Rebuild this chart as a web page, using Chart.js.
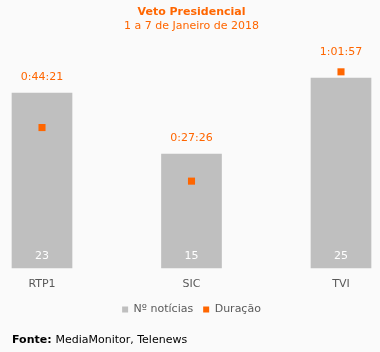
<!DOCTYPE html>
<html>
<head>
<meta charset="utf-8">
<script src="https://cdn.jsdelivr.net/npm/chart.js@4"></script>
<style>
  body { margin: 0; background: #fafafa; }
  canvas { display: block; }
</style>
</head>
<body>
<canvas id="vetoChart" width="380" height="352"></canvas>
<script>
// Data
var canais = ['RTP1', 'SIC', 'TVI'];
var noticias = [23, 15, 25];
var duracaoTxt = ['0:44:21', '0:27:26', '1:01:57'];

// h:mm:ss -> seconds
function toSec(t) {
    var p = t.split(':');
    return (+p[0]) * 3600 + (+p[1]) * 60 + (+p[2]);
}
var duracaoSeg = duracaoTxt.map(toSec);

var LARANJA = '#ff6600';
var CINZA = '#bfbfbf';

Chart.defaults.font.family = '"DejaVu Sans", Verdana, sans-serif';
Chart.defaults.font.size = 11;

// value labels + source line
var labelsPlugin = {
    id: 'labelsPlugin',
    afterDatasetsDraw: function(chart) {
        var ctx = chart.ctx;
        var bars = chart.getDatasetMeta(0).data;
        var pts = chart.getDatasetMeta(1).data;
        ctx.save();
        ctx.font = '11px "DejaVu Sans"';
        ctx.textAlign = 'center';
        ctx.textBaseline = 'middle';
        bars.forEach(function(b, i) {
            ctx.fillStyle = '#ffffff';
            ctx.fillText(noticias[i], b.x, b.base - 12);
            var top = Math.min(b.y, pts[i].y - 4);
            ctx.fillStyle = LARANJA;
            ctx.fillText(duracaoTxt[i], b.x, top - 16);
        });
        ctx.restore();
    },
    afterDraw: function(chart) {
        var ctx = chart.ctx;
        ctx.save();
        ctx.textBaseline = 'middle';
        ctx.textAlign = 'left';
        ctx.fillStyle = '#000000';
        ctx.font = 'bold 11px "DejaVu Sans"';
        ctx.fillText('Fonte:', 12, 340);
        var w = ctx.measureText('Fonte: ').width;
        ctx.font = '11px "DejaVu Sans"';
        ctx.fillText('MediaMonitor, Telenews', 12 + w, 340);
        ctx.restore();
    }
};

var ctx = document.getElementById('vetoChart').getContext('2d');
var vetoChart = new Chart(ctx, {
    data: {
        labels: canais,
        datasets: [{
            type: 'bar',
            label: 'Nº notícias',
            data: noticias,
            yAxisID: 'y',
            order: 1,
            backgroundColor: CINZA,
            barThickness: 60,
            clip: false
        }, {
            type: 'line',
            label: 'Duração',
            data: duracaoSeg,
            yAxisID: 'y1',
            showLine: false,
            order: 0,
            backgroundColor: LARANJA,
            borderColor: LARANJA,
            borderWidth: 0,
            pointStyle: 'rect',
            pointRadius: 5,
            pointBorderWidth: 0,
            clip: false
        }]
    },
    options: {
        responsive: false,
        animation: false,
        layout: {
            padding: { left: 42, right: 39, top: 0, bottom: 27 }
        },
        scales: {
            x: {
                offset: false,
                grid: { display: false },
                border: { display: false },
                ticks: { color: '#595959', padding: 2 },
                afterFit: function(s) { s.height = 26; }
            },
            y: { display: false, min: 0, max: 30 },
            y1: { display: false, min: 0, max: 4320 }
        },
        plugins: {
            title: {
                display: true,
                text: 'Veto Presidencial',
                color: LARANJA,
                font: { size: 11, weight: 'bold' },
                padding: { top: 6, bottom: 0 }
            },
            subtitle: {
                display: true,
                text: '1 a 7 de Janeiro de 2018',
                color: LARANJA,
                font: { size: 11 },
                padding: { top: 0, bottom: 7.6 }
            },
            legend: {
                position: 'bottom',
                labels: {
                    color: '#595959',
                    boxWidth: 6,
                    boxHeight: 6,
                    padding: 10,
                    sort: function(a, b) { return a.datasetIndex - b.datasetIndex; }
                }
            },
            tooltip: { enabled: false }
        }
    },
    plugins: [labelsPlugin]
});
</script>
</body>
</html>
